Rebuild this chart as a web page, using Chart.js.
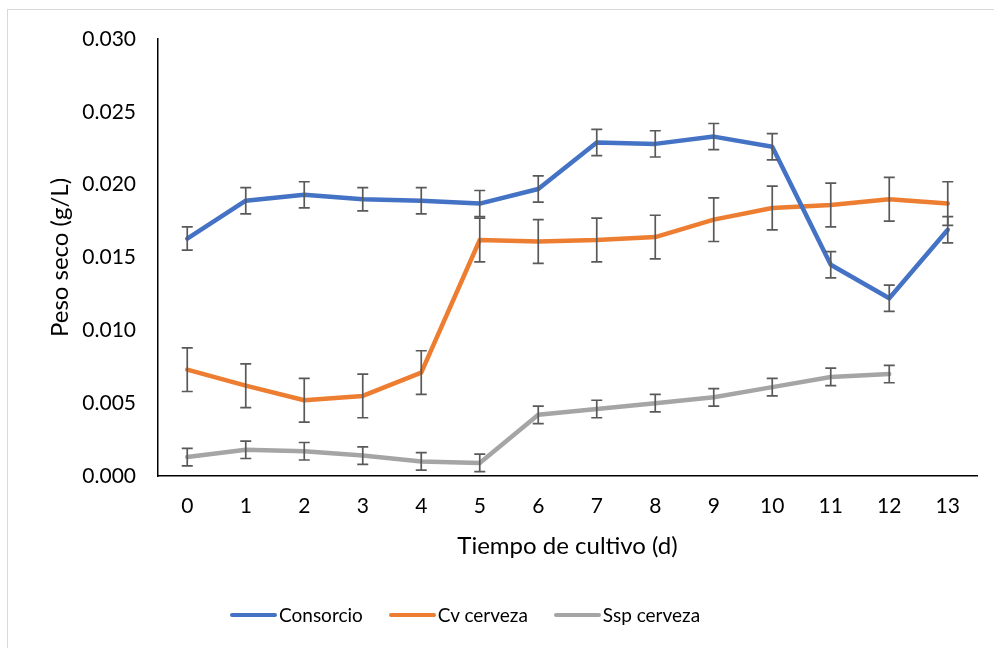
<!DOCTYPE html>
<html>
<head>
<meta charset="utf-8">
<script src="https://cdn.jsdelivr.net/npm/chart.js@4.4.1/dist/chart.umd.min.js"></script>
<style>
  body { margin: 0; background: #fff; overflow: hidden; }
  #wrap { position: relative; width: 994px; height: 648px; }
  #frame { position: absolute; left: 7px; top: 9px; width: 1000px; height: 700px; border: 1px solid #d9d9d9; box-sizing: border-box; }
  #chart { position: absolute; left: 0; top: 0; }
  #leyenda { position: absolute; left: 230px; top: 603px; display: flex; align-items: center;
             font-family: Lato, "Open Sans", sans-serif; font-size: 19px; line-height: 24px; color: #000; }
  #leyenda .item { display: flex; align-items: center; margin-right: 26px; }
  #leyenda .linea { width: 47px; height: 4px; border-radius: 2px; margin-right: 2px; }
</style>
</head>
<body>
<div id="wrap">
  <div id="frame"></div>
  <canvas id="chart" width="994" height="648"></canvas>
  <div id="leyenda"></div>
</div>
<script>
// days of culture
var dias = ['0','1','2','3','4','5','6','7','8','9','10','11','12','13'];

// mean dry weight (g/L)
var consorcio = [0.0163, 0.0189, 0.0193, 0.0190, 0.0189, 0.0187, 0.0197, 0.0229, 0.0228, 0.0233, 0.0226, 0.0145, 0.0122, 0.0169];
var cvCerveza = [0.0073, 0.0062, 0.0052, 0.0055, 0.0071, 0.0162, 0.0161, 0.0162, 0.0164, 0.0176, 0.0184, 0.0186, 0.0190, 0.0187];
var sspCerveza = [0.0013, 0.0018, 0.0017, 0.0014, 0.0010, 0.0009, 0.0042, 0.0046, 0.0050, 0.0054, 0.0061, 0.0068, 0.0070, null];

// error (+/-)
var errConsorcio = [0.0008, 0.0009, 0.0009, 0.0008, 0.0009, 0.0009, 0.0009, 0.0009, 0.0009, 0.0009, 0.0009, 0.0009, 0.0009, 0.0009];
var errCv = [0.0015, 0.0015, 0.0015, 0.0015, 0.0015, 0.0015, 0.0015, 0.0015, 0.0015, 0.0015, 0.0015, 0.0015, 0.0015, 0.0015];
var errSsp = [0.0006, 0.0006, 0.0006, 0.0006, 0.0006, 0.0006, 0.0006, 0.0006, 0.0006, 0.0006, 0.0006, 0.0006, 0.0006, null];

var fuente = 'Lato, "Open Sans", sans-serif';

// draws the error bars with the chart's own scales
var errorBars = {
  id: 'errorBars',
  afterDatasetsDraw: function(chart) {
    var ctx = chart.ctx;
    var yScale = chart.scales.y;
    ctx.save();
    ctx.strokeStyle = '#595959';
    ctx.lineWidth = 1.7;
    chart.data.datasets.forEach(function(ds, i) {
      var meta = chart.getDatasetMeta(i);
      meta.data.forEach(function(pt, j) {
        var v = ds.data[j];
        var e = ds.errores[j];
        if (v === null || e === null) return;
        var x = pt.x;
        var top = yScale.getPixelForValue(v + e);
        var bot = yScale.getPixelForValue(v - e);
        ctx.beginPath();
        ctx.moveTo(x, top); ctx.lineTo(x, bot);
        ctx.moveTo(x - 5.5, top); ctx.lineTo(x + 5.5, top);
        ctx.moveTo(x - 5.5, bot); ctx.lineTo(x + 5.5, bot);
        ctx.stroke();
      });
    });
    ctx.restore();
  }
};

function serie(nombre, datos, errores, color) {
  return {
    label: nombre,
    data: datos,
    errores: errores,
    borderColor: color,
    backgroundColor: color,
    borderWidth: 4.5,
    borderCapStyle: 'round',
    borderJoinStyle: 'round',
    pointRadius: 0,
    tension: 0,
    spanGaps: false
  };
}

var ctx = document.getElementById('chart').getContext('2d');
var grafico = new Chart(ctx, {
  type: 'line',
  data: {
    labels: dias,
    datasets: [
      serie('Consorcio', consorcio, errConsorcio, '#4472C4'),
      serie('Cv cerveza', cvCerveza, errCv, '#ED7D31'),
      serie('Ssp cerveza', sspCerveza, errSsp, '#A5A5A5')
    ]
  },
  options: {
    responsive: false,
    animation: false,
    layout: { padding: { left: 46, top: 39, right: 17, bottom: 67 } },
    plugins: {
      tooltip: { enabled: false },
      legend: { display: false }
    },
    scales: {
      x: {
        offset: true,
        grid: { color: 'transparent', drawTicks: false, offset: true },
        border: { color: '#000', width: 1.5 },
        ticks: { color: '#000', font: { family: fuente, size: 21 }, padding: 18, maxRotation: 0 },
        title: { display: true, text: 'Tiempo de cultivo (d)', color: '#000', font: { family: fuente, size: 24 }, padding: { top: 0, bottom: 20 } },
        afterFit: function(scale) { scale.height = 105; }
      },
      y: {
        min: 0,
        max: 0.03,
        grid: { color: 'transparent', drawTicks: false },
        border: { color: '#000', width: 1.5 },
        ticks: {
          stepSize: 0.005,
          color: '#000',
          font: { family: fuente, size: 21 },
          padding: 22,
          callback: function(v) { return v.toFixed(3); }
        },
        title: { display: true, text: 'Peso seco (g/L)', color: '#000', font: { family: fuente, size: 24 }, padding: { top: 0, bottom: 0 } },
        afterFit: function(scale) { scale.width = 112; }
      }
    }
  },
  plugins: [errorBars]
});

// legend built from the chart's datasets
var leyenda = document.getElementById('leyenda');
grafico.data.datasets.forEach(function(ds) {
  var item = document.createElement('div');
  item.className = 'item';
  var linea = document.createElement('span');
  linea.className = 'linea';
  linea.style.background = ds.borderColor;
  var texto = document.createElement('span');
  texto.textContent = ds.label;
  item.appendChild(linea);
  item.appendChild(texto);
  leyenda.appendChild(item);
});
</script>
</body>
</html>
